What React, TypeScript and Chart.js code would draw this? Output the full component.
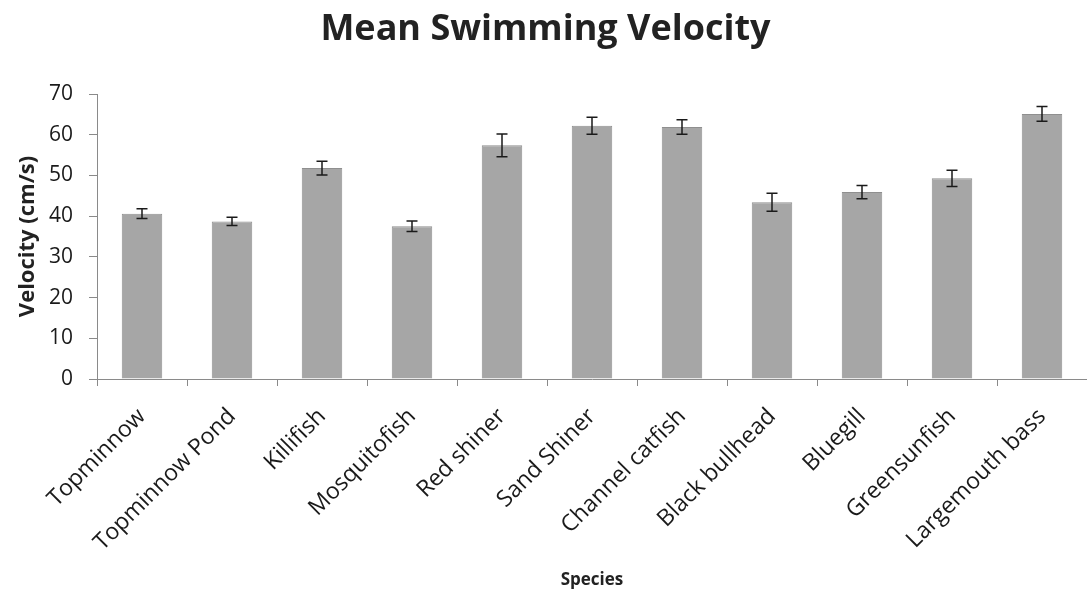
import React, { useEffect, useRef } from "react";
import { Chart, registerables } from "chart.js";

Chart.register(...registerables);

const species = [
  "Topminnow",
  "Topminnow Pond",
  "Killifish",
  "Mosquitofish",
  "Red shiner",
  "Sand Shiner",
  "Channel catfish",
  "Black bullhead",
  "Bluegill",
  "Greensunfish",
  "Largemouth bass",
];
const meanVelocity = [40.6, 38.7, 51.8, 37.5, 57.4, 62.2, 61.9, 43.4, 45.9, 49.3, 65.1];
const errorMargin = [1.2, 1.0, 1.7, 1.3, 2.8, 2.1, 1.8, 2.2, 1.6, 2.0, 1.8];
const yTicks = [0, 10, 20, 30, 40, 50, 60, 70];

const FONT = "'Open Sans', sans-serif";

const errorBarPlugin = {
  id: "errorBars",
  afterDatasetsDraw(chart: any) {
    const meta = chart.getDatasetMeta(0);
    const yScale = chart.scales.y;
    const ctx = chart.ctx;
    ctx.save();
    ctx.strokeStyle = "#1a1a1a";
    ctx.lineWidth = 1.5;
    meta.data.forEach((bar: any, i: number) => {
      const v = meanVelocity[i];
      const e = errorMargin[i];
      const x = bar.x;
      const yTop = yScale.getPixelForValue(v + e);
      const yBot = yScale.getPixelForValue(v - e);
      const cap = 5.5;
      ctx.beginPath();
      ctx.moveTo(x, yTop);
      ctx.lineTo(x, yBot);
      ctx.moveTo(x - cap, yTop);
      ctx.lineTo(x + cap, yTop);
      ctx.moveTo(x - cap, yBot);
      ctx.lineTo(x + cap, yBot);
      ctx.stroke();
    });
    ctx.restore();
  },
};

export default function App() {
  const ref = useRef<HTMLCanvasElement | null>(null);
  useEffect(() => {
    if (!ref.current) return;
    const chart = new Chart(ref.current, {
      type: "bar",
      data: {
        labels: species,
        datasets: [
          {
            data: meanVelocity,
            backgroundColor: "#a6a6a6",
            borderColor: "#8f8f8f",
            borderWidth: 1,
            barPercentage: 0.45,
            categoryPercentage: 1,
          },
        ],
      },
      options: {
        animation: false,
        responsive: false,
        maintainAspectRatio: false,
        layout: { padding: { top: 0, left: 0, right: -4, bottom: 0 } },
        plugins: {
          legend: { display: false },
          tooltip: { enabled: false },
          title: {
            display: true,
            text: "Mean Swimming Velocity",
            color: "#222",
            font: { family: FONT, size: 36, weight: "bold" },
            padding: { top: 8.4, bottom: 42.4 },
          },
        },
        scales: {
          x: {
            afterFit: (s: any) => {
              s.height = 211;
            },
            grid: {
              offset: true,
              drawOnChartArea: false,
              drawTicks: true,
              tickLength: 7,
              color: "#8a8a8a",
            },
            border: { color: "#8a8a8a", width: 1 },
            ticks: {
              color: "#1a1a1a",
              font: { family: FONT, size: 23 },
              maxRotation: 45,
              minRotation: 45,
              padding: 17,
              autoSkip: false,
            },
            title: {
              display: true,
              text: "Species",
              color: "#222",
              font: { family: FONT, size: 17, weight: "bold" },
              padding: { top: 0, bottom: 0 },
            },
          },
          y: {
            min: 0,
            max: 70,
            afterFit: (s: any) => {
              s.width = 97;
            },
            afterBuildTicks: (s: any) => {
              s.ticks = yTicks.map((v) => ({ value: v }));
            },
            grid: {
              drawOnChartArea: false,
              drawTicks: true,
              tickLength: 8,
              color: "#8a8a8a",
            },
            border: { color: "#8a8a8a", width: 1 },
            ticks: {
              color: "#1a1a1a",
              font: { family: FONT, size: 21 },
              padding: 16,
            },
            title: {
              display: true,
              text: "Velocity (cm/s)",
              color: "#222",
              font: { family: FONT, size: 22, weight: "bold" },
              padding: { top: 15, bottom: 0 },
            },
          },
        },
      },
      plugins: [errorBarPlugin],
    });
    return () => chart.destroy();
  }, []);
  return (
    <div style={{ position: "absolute", left: 0, top: 0, width: 1087, height: 590, background: "#fff" }}>
      <canvas ref={ref} width={1087} height={590} style={{ display: "block" }} />
    </div>
  );
}
